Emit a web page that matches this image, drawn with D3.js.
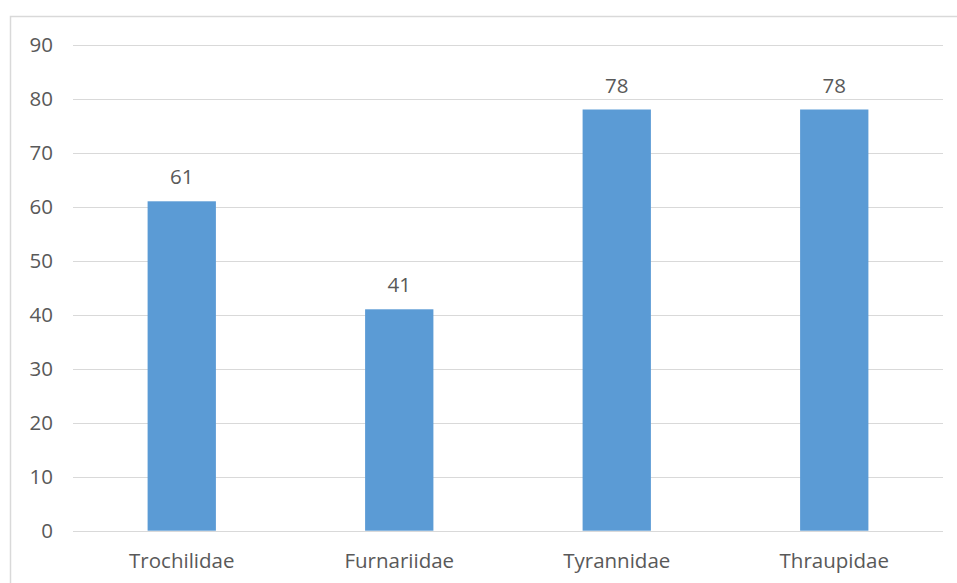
<!DOCTYPE html>
<html>
<head>
<meta charset="utf-8">
<script src="https://cdn.jsdelivr.net/npm/d3@7"></script>
<style>
  html, body { margin: 0; padding: 0; background: #fff; }
  svg { display: block; }
  text { font-family: "Open Sans", sans-serif; fill: #595959; }
</style>
</head>
<body>
<svg id="chart" width="957" height="583"></svg>
<script>
const categories = ["Trochilidae", "Furnariidae", "Tyrannidae", "Thraupidae"];
const values = [61, 41, 78, 78];
const yTicks = [0, 10, 20, 30, 40, 50, 60, 70, 80, 90];

const svg = d3.select("#chart");
const W = 957, H = 583;
const plot = { left: 73, right: 943, top: 44.7, bottom: 530.7 };
const FS = "20.5px";

// outer chart border
svg.append("rect")
  .attr("x", 10.5).attr("y", 16.5)
  .attr("width", W + 10).attr("height", H + 10)
  .attr("fill", "none").attr("stroke", "#d9d9d9").attr("stroke-width", 1.5);

const x = d3.scaleBand()
  .domain(categories)
  .range([plot.left, plot.right])
  .paddingInner(0.686)
  .paddingOuter(0.343);

const y = d3.scaleLinear()
  .domain([0, 90])
  .range([plot.bottom, plot.top]);

// gridlines
svg.append("g")
  .selectAll("line")
  .data(yTicks)
  .join("line")
  .attr("x1", plot.left).attr("x2", plot.right)
  .attr("y1", d => Math.round(y(d)) + 0.5)
  .attr("y2", d => Math.round(y(d)) + 0.5)
  .attr("stroke", "#d9d9d9").attr("stroke-width", 1);

// y-axis labels
const yAxis = d3.axisLeft(y).tickValues(yTicks).tickSize(0).tickPadding(0);
const yG = svg.append("g").attr("transform", `translate(53,0)`).call(yAxis);
yG.select(".domain").remove();
yG.selectAll("text")
  .style("font-family", '"Open Sans", sans-serif')
  .style("font-size", FS)
  .attr("fill", "#595959");

// bars
svg.append("g")
  .selectAll("rect")
  .data(categories)
  .join("rect")
  .attr("x", d => x(d))
  .attr("width", x.bandwidth())
  .attr("y", (d, i) => y(values[i]))
  .attr("height", (d, i) => y(0) - y(values[i]))
  .attr("fill", "#5b9bd5");

// value labels
svg.append("g")
  .selectAll("text")
  .data(categories)
  .join("text")
  .attr("x", d => x(d) + x.bandwidth() / 2)
  .attr("y", (d, i) => y(values[i]) - 17)
  .attr("text-anchor", "middle")
  .style("font-size", FS)
  .text((d, i) => values[i]);

// x-axis labels
const xAxis = d3.axisBottom(x).tickSize(0).tickPadding(0);
const xG = svg.append("g").attr("transform", `translate(0,${plot.bottom})`).call(xAxis);
xG.select(".domain").remove();
xG.selectAll("text")
  .attr("dy", null)
  .attr("y", 37)
  .style("font-family", '"Open Sans", sans-serif')
  .style("font-size", FS)
  .attr("fill", "#595959");
</script>
</body>
</html>
